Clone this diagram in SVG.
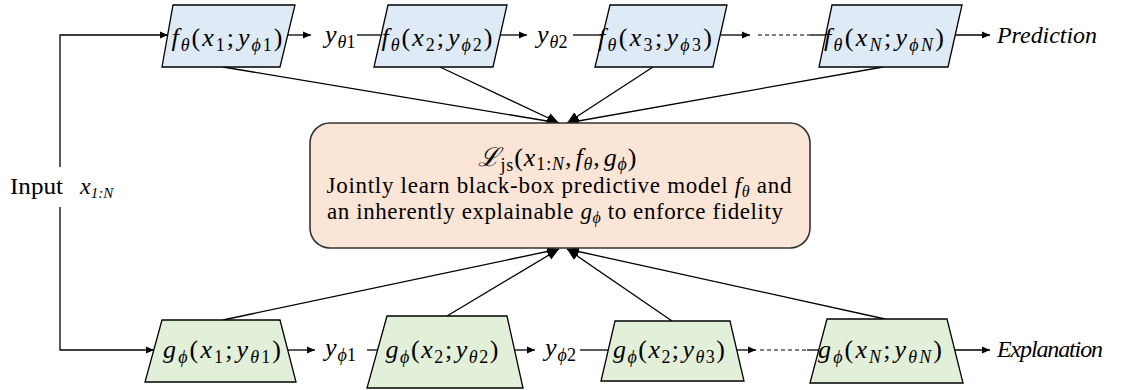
<svg xmlns="http://www.w3.org/2000/svg" width="1133" height="390" viewBox="0 0 1133 390">
<defs>
<style>
.t{font-family:"Liberation Serif","Noto Serif",serif;fill:#000}
.m{font-family:"Liberation Serif","DejaVu Serif",serif;font-size:26px;fill:#000}
.i{font-style:italic}
.s{font-size:18px}
.ln{fill:none;stroke:#000;stroke-width:1.3}
.dash{fill:none;stroke:#000;stroke-width:1.2;stroke-dasharray:4 3}
.fb{fill:#DEEBF7;stroke:#000;stroke-width:1.3}
.gb{fill:#E2F0D9;stroke:#000;stroke-width:1.3}
.cb{fill:#FBE5D6;stroke:#333;stroke-width:1.6}
</style>
<marker id="a" markerUnits="userSpaceOnUse" markerWidth="9" markerHeight="8" refX="8" refY="4" orient="auto"><path d="M0,0.5 L8,4 L0,7.5 z" fill="#000"/></marker>
<marker id="b" markerUnits="userSpaceOnUse" markerWidth="13" markerHeight="11" refX="12" refY="5.5" orient="auto"><path d="M0,0.5 L12,5.5 L0,10.5 z" fill="#000"/></marker>
</defs>

<g id="connectors">
<path class="ln" d="M60,167 V35 H168" marker-end="url(#a)"/>
<path class="ln" d="M60,207 V350 H154" marker-end="url(#a)"/>
<path class="ln" d="M288,35 H311" marker-end="url(#a)"/>
<path class="ln" d="M357,35 H381"/>
<path class="ln" d="M500,35 H527" marker-end="url(#a)"/>
<path class="ln" d="M573,35 H603"/>
<path class="ln" d="M720,35 H750" marker-end="url(#a)"/>
<path class="dash" d="M758,35 H810"/>
<path class="ln" d="M810,35 H826"/>
<path class="ln" d="M955,35 H990" marker-end="url(#a)"/>
<path class="ln" d="M288,350 H315" marker-end="url(#a)"/>
<path class="ln" d="M367,350 H378"/>
<path class="ln" d="M515,350 H535" marker-end="url(#a)"/>
<path class="ln" d="M580,350 H608"/>
<path class="ln" d="M737,350 H756" marker-end="url(#a)"/>
<path class="dash" d="M760,350 H807"/>
<path class="ln" d="M807,350 H819"/>
<path class="ln" d="M955,350 H990" marker-end="url(#a)"/>
<path class="ln" d="M223,67 L559,123" marker-end="url(#b)"/>
<path class="ln" d="M440,67 L559,123" marker-end="url(#b)"/>
<path class="ln" d="M653,67 L567,123" marker-end="url(#b)"/>
<path class="ln" d="M883,67 L567,123" marker-end="url(#b)"/>
<path class="ln" d="M223,320 L559,249" marker-end="url(#b)"/>
<path class="ln" d="M447,316 L559,249" marker-end="url(#b)"/>
<path class="ln" d="M672,321 L567,249" marker-end="url(#b)"/>
<path class="ln" d="M885,319 L567,249" marker-end="url(#b)"/>
</g>

<g id="input-label">
<text class="t" x="10" y="194" font-size="23" textLength="53" lengthAdjust="spacingAndGlyphs">Input</text>
<text class="t i" x="80" y="194" font-size="24">x<tspan font-size="15" dy="4">1:N</tspan></text>
</g>

<g id="f1">
<polygon class="fb" points="173,5 295,5 280,67 162,67"/>
<text class="m" x="227" y="46" text-anchor="middle" textLength="111"><tspan class="i">f</tspan><tspan class="s i" dy="5">θ</tspan><tspan dy="-5">(</tspan><tspan class="i">x</tspan><tspan class="s" dy="5">1</tspan><tspan dy="-5">;</tspan><tspan class="i" dx="2">y</tspan><tspan class="s i" dy="5">ϕ</tspan><tspan class="s">1</tspan><tspan dy="-5">)</tspan></text>
</g>
<g id="f2">
<polygon class="fb" points="388,5 507,5 493,67 374,67"/>
<text class="m" x="437" y="46" text-anchor="middle" textLength="111"><tspan class="i">f</tspan><tspan class="s i" dy="5">θ</tspan><tspan dy="-5">(</tspan><tspan class="i">x</tspan><tspan class="s" dy="5">2</tspan><tspan dy="-5">;</tspan><tspan class="i" dx="2">y</tspan><tspan class="s i" dy="5">ϕ</tspan><tspan class="s">2</tspan><tspan dy="-5">)</tspan></text>
</g>
<g id="f3">
<polygon class="fb" points="610,5 727,5 713,67 595,67"/>
<text class="m" x="655" y="46" text-anchor="middle" textLength="114"><tspan class="i">f</tspan><tspan class="s i" dy="5">θ</tspan><tspan dy="-5">(</tspan><tspan class="i">x</tspan><tspan class="s" dy="5">3</tspan><tspan dy="-5">;</tspan><tspan class="i" dx="2">y</tspan><tspan class="s i" dy="5">ϕ</tspan><tspan class="s">3</tspan><tspan dy="-5">)</tspan></text>
</g>
<g id="fN">
<polygon class="fb" points="832,5 962,5 948,67 819,67"/>
<text class="m" x="884" y="46" text-anchor="middle" textLength="120"><tspan class="i">f</tspan><tspan class="s i" dy="5">θ</tspan><tspan dy="-5">(</tspan><tspan class="i">x</tspan><tspan class="s i" dy="5">N</tspan><tspan dy="-5">;</tspan><tspan class="i" dx="2">y</tspan><tspan class="s i" dy="5">ϕN</tspan><tspan dy="-5">)</tspan></text>
</g>

<g id="y-theta1"><text class="m" x="325" y="43"><tspan class="i">y</tspan><tspan class="s i" dy="5" dx="1">θ</tspan><tspan class="s">1</tspan></text></g>
<g id="y-theta2"><text class="m" x="537" y="43"><tspan class="i">y</tspan><tspan class="s i" dy="5" dx="1">θ</tspan><tspan class="s">2</tspan></text></g>
<g id="prediction"><text class="t i" x="997" y="43" font-size="24" textLength="100">Prediction</text></g>

<g id="g1">
<polygon class="gb" points="162,320 280,320 296,382 145,382"/>
<text class="m" x="222" y="358" text-anchor="middle" textLength="118"><tspan class="i">g</tspan><tspan class="s i" dy="5">ϕ</tspan><tspan dy="-5">(</tspan><tspan class="i">x</tspan><tspan class="s" dy="5">1</tspan><tspan dy="-5">;</tspan><tspan class="i" dx="2">y</tspan><tspan class="s i" dy="5">θ</tspan><tspan class="s">1</tspan><tspan dy="-5">)</tspan></text>
</g>
<g id="g2">
<polygon class="gb" points="387,316 507,316 523,388 367,388"/>
<text class="m" x="442" y="358" text-anchor="middle" textLength="113"><tspan class="i">g</tspan><tspan class="s i" dy="5">ϕ</tspan><tspan dy="-5">(</tspan><tspan class="i">x</tspan><tspan class="s" dy="5">2</tspan><tspan dy="-5">;</tspan><tspan class="i" dx="2">y</tspan><tspan class="s i" dy="5">θ</tspan><tspan class="s">2</tspan><tspan dy="-5">)</tspan></text>
</g>
<g id="g3">
<polygon class="gb" points="615,321 730,321 744,381 601,381"/>
<text class="m" x="669" y="358" text-anchor="middle" textLength="112"><tspan class="i">g</tspan><tspan class="s i" dy="5">ϕ</tspan><tspan dy="-5">(</tspan><tspan class="i">x</tspan><tspan class="s" dy="5">2</tspan><tspan dy="-5">;</tspan><tspan class="i" dx="2">y</tspan><tspan class="s i" dy="5">θ</tspan><tspan class="s">3</tspan><tspan dy="-5">)</tspan></text>
</g>
<g id="gN">
<polygon class="gb" points="827,319 947,319 963,383 810,383"/>
<text class="m" x="880" y="358" text-anchor="middle" textLength="124"><tspan class="i">g</tspan><tspan class="s i" dy="5">ϕ</tspan><tspan dy="-5">(</tspan><tspan class="i">x</tspan><tspan class="s i" dy="5">N</tspan><tspan dy="-5">;</tspan><tspan class="i" dx="2">y</tspan><tspan class="s i" dy="5">θN</tspan><tspan dy="-5">)</tspan></text>
</g>

<g id="y-phi1"><text class="m" x="325" y="356"><tspan class="i">y</tspan><tspan class="s i" dy="5" dx="1">ϕ</tspan><tspan class="s">1</tspan></text></g>
<g id="y-phi2"><text class="m" x="545" y="356"><tspan class="i">y</tspan><tspan class="s i" dy="5" dx="1">ϕ</tspan><tspan class="s">2</tspan></text></g>
<g id="explanation"><text class="t i" x="997" y="357" font-size="24" textLength="106">Explanation</text></g>

<g id="loss">
<rect class="cb" x="310" y="123" width="500" height="125" rx="20" ry="20"/>
<text class="m" x="557" y="166" text-anchor="middle" font-size="25" textLength="159"><tspan class="i">ℒ</tspan><tspan class="s" dy="5">js</tspan><tspan dy="-5">(</tspan><tspan class="i">x</tspan><tspan class="s" dy="4">1:</tspan><tspan class="s i">N</tspan><tspan dy="-4">,</tspan><tspan class="i" dx="3">f</tspan><tspan class="s i" dy="4">θ</tspan><tspan dy="-4">,</tspan><tspan class="i" dx="3">g</tspan><tspan class="s i" dy="4">ϕ</tspan><tspan dy="-4">)</tspan></text>
<text class="t" x="559" y="193" font-size="23" text-anchor="middle" textLength="465">Jointly learn black-box predictive model <tspan class="i">f</tspan><tspan class="i" font-size="16" dy="4">θ</tspan><tspan dy="-4"> and</tspan></text>
<text class="t" x="555" y="219" font-size="23" text-anchor="middle" textLength="456">an inherently explainable <tspan class="i">g</tspan><tspan class="i" font-size="16" dy="4">ϕ</tspan><tspan dy="-4"> to enforce fidelity</tspan></text>
</g>
</svg>
